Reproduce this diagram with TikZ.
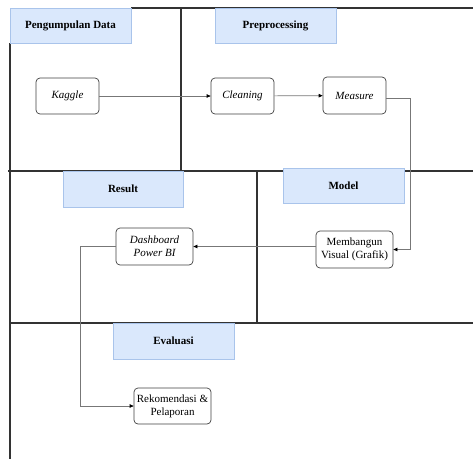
\documentclass[tikz,border=0pt]{standalone}
\usepackage{fontspec}
\setmainfont{Liberation Serif}
\usetikzlibrary{arrows.meta}
\definecolor{lanefill}{HTML}{DAE8FC}
\definecolor{lanedraw}{HTML}{A9C4EB}
\definecolor{laneline}{HTML}{333333}
\definecolor{conn}{HTML}{777777}
\tikzset{
  header/.style={draw=lanedraw, fill=lanefill, line width=0.8pt, minimum width=121pt, minimum height=35pt, inner sep=0pt, font=\fontsize{11}{13}\selectfont\bfseries},
  stepbox/.style={draw=black!75, rounded corners=4pt, line width=0.7pt, fill=white, minimum width=63pt, minimum height=36pt, inner sep=1pt, align=center, font=\fontsize{11}{13}\selectfont},
  lane/.style={draw=laneline, line width=1.3pt},
  arr/.style={draw=conn, line width=0.7pt, -{Triangle[length=4pt,width=3.5pt,color=black]}}
}
\begin{document}
\begin{tikzpicture}[x=1pt,y=-1pt]
\useasboundingbox (0,0) rectangle (473,459);
% lane lines
\draw[lane] (131,8) -- (473,8);
\draw[lane] (181,8) -- (181,171);
\draw[lane] (10,43) -- (10,459);
\draw[lane] (8,171) -- (473,171);
\draw[lane] (257,171) -- (257,323);
\draw[lane] (10,323) -- (473,323);
% headers
\node[header] (hPD) at (70.5,25.5) {Pengumpulan Data};
\node[header] (hPre) at (275.5,25.5) {Preprocessing};
\node[header, minimum width=120pt, minimum height=36pt] (hRes) at (123,189) {Result};
\node[header] (hMod) at (343.5,186) {Model};
\node[header, minimum height=36pt] (hEva) at (173.5,341) {Evaluasi};
% steps
\node[stepbox] (kaggle) at (67.5,96) {\itshape Kaggle};
\node[stepbox] (cleaning) at (242.5,96) {\itshape Cleaning};
\node[stepbox, minimum height=37pt] (measure) at (354.5,95.5) {\itshape Measure};
\node[stepbox, minimum width=77pt, minimum height=37pt] (dash) at (154.5,246.5) {\itshape Dashboard\\\itshape Power BI};
\node[stepbox, minimum width=77pt, minimum height=37pt] (visual) at (354.5,249.5) {Membangun\\Visual (Grafik)};
\node[stepbox, minimum width=77pt, minimum height=36pt, inner sep=0pt] (rekom) at (172.5,406) {Rekomendasi \&\\Pelaporan};
% connectors
\draw[arr] (kaggle) -- (cleaning);
\draw[arr] (cleaning) -- (measure);
\draw[arr] ([yshift=-2.5pt]measure.east) -- ++(24,0) |- (visual.east);
\draw[arr] (visual.west |- dash.east) -- (dash.east);
\draw[arr] (dash.west) -- ++(-35,0) |- (rekom.west);
\end{tikzpicture}
\end{document}
